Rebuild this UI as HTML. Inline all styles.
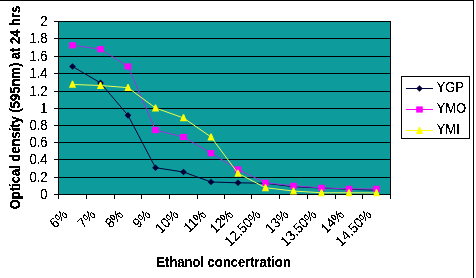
<!DOCTYPE html><html><head><meta charset="utf-8"><style>
html,body{margin:0;padding:0;background:#fff;width:476px;height:278px;overflow:hidden}
svg{display:block}text{font-family:"Liberation Sans",sans-serif}
</style></head><body>
<svg width="476" height="278" viewBox="0 0 476 278">
<defs><filter id="th" x="-20%" y="-20%" width="140%" height="140%" color-interpolation-filters="sRGB"><feComponentTransfer><feFuncA type="discrete" tableValues="0 0 1 1 1"/></feComponentTransfer></filter></defs>
<rect x="0" y="0" width="476" height="278" fill="#fff"/>
<g shape-rendering="crispEdges" stroke="#000" stroke-width="1">
<line x1="0" y1="0.5" x2="474" y2="0.5"/>
<line x1="473.5" y1="0" x2="473.5" y2="278"/>
</g>
<rect x="58" y="21" width="333" height="174" fill="#0E9B9B"/>
<g shape-rendering="crispEdges" stroke="#000" stroke-width="1">
<line x1="54" y1="21.5" x2="391" y2="21.5"/>
<line x1="54" y1="38.5" x2="391" y2="38.5"/>
<line x1="54" y1="56.5" x2="391" y2="56.5"/>
<line x1="54" y1="73.5" x2="391" y2="73.5"/>
<line x1="54" y1="91.5" x2="391" y2="91.5"/>
<line x1="54" y1="108.5" x2="391" y2="108.5"/>
<line x1="54" y1="125.5" x2="391" y2="125.5"/>
<line x1="54" y1="142.5" x2="391" y2="142.5"/>
<line x1="54" y1="159.5" x2="391" y2="159.5"/>
<line x1="54" y1="177.5" x2="391" y2="177.5"/>
<line x1="54" y1="194.5" x2="391" y2="194.5"/>
<line x1="58.5" y1="21" x2="58.5" y2="199"/>
<line x1="390.5" y1="21" x2="390.5" y2="199"/>
<line x1="58.5" y1="194" x2="58.5" y2="199"/>
<line x1="86.5" y1="194" x2="86.5" y2="199"/>
<line x1="114.5" y1="194" x2="114.5" y2="199"/>
<line x1="141.5" y1="194" x2="141.5" y2="199"/>
<line x1="169.5" y1="194" x2="169.5" y2="199"/>
<line x1="197.5" y1="194" x2="197.5" y2="199"/>
<line x1="224.5" y1="194" x2="224.5" y2="199"/>
<line x1="251.5" y1="194" x2="251.5" y2="199"/>
<line x1="279.5" y1="194" x2="279.5" y2="199"/>
<line x1="307.5" y1="194" x2="307.5" y2="199"/>
<line x1="335.5" y1="194" x2="335.5" y2="199"/>
<line x1="362.5" y1="194" x2="362.5" y2="199"/>
<line x1="390.5" y1="194" x2="390.5" y2="199"/>
</g>
<g font-size="13" text-anchor="end" fill="#000" filter="url(#th)">
<text transform="translate(47.5,26) scale(1,1.08)">2</text>
<text transform="translate(47.5,43) scale(1,1.08)">1.8</text>
<text transform="translate(47.5,61) scale(1,1.08)">1.6</text>
<text transform="translate(47.5,78) scale(1,1.08)">1.4</text>
<text transform="translate(47.5,96) scale(1,1.08)">1.2</text>
<text transform="translate(47.5,113) scale(1,1.08)">1</text>
<text transform="translate(47.5,130) scale(1,1.08)">0.8</text>
<text transform="translate(47.5,147) scale(1,1.08)">0.6</text>
<text transform="translate(47.5,164) scale(1,1.08)">0.4</text>
<text transform="translate(47.5,182) scale(1,1.08)">0.2</text>
<text transform="translate(47.5,199) scale(1,1.08)">0</text>
</g>
<polyline points="72.50,66.48 100.50,82.91 128.00,115.35 155.50,167.69 183.50,172.01 211.00,181.96 238.00,182.82 265.50,183.25 293.50,186.72 321.50,188.01 349.00,189.31 376.50,190.18" fill="none" stroke="#00003C" stroke-width="1"/>
<path d="M72.50 63.18L75.80 66.48L72.50 69.78L69.20 66.48Z" fill="#00003C"/>
<path d="M100.50 79.61L103.80 82.91L100.50 86.21L97.20 82.91Z" fill="#00003C"/>
<path d="M128.00 112.05L131.30 115.35L128.00 118.65L124.70 115.35Z" fill="#00003C"/>
<path d="M155.50 164.38L158.80 167.69L155.50 170.99L152.20 167.69Z" fill="#00003C"/>
<path d="M183.50 168.71L186.80 172.01L183.50 175.31L180.20 172.01Z" fill="#00003C"/>
<path d="M211.00 178.66L214.30 181.96L211.00 185.26L207.70 181.96Z" fill="#00003C"/>
<path d="M238.00 179.52L241.30 182.82L238.00 186.12L234.70 182.82Z" fill="#00003C"/>
<path d="M265.50 179.95L268.80 183.25L265.50 186.56L262.20 183.25Z" fill="#00003C"/>
<path d="M293.50 183.41L296.80 186.72L293.50 190.02L290.20 186.72Z" fill="#00003C"/>
<path d="M321.50 184.71L324.80 188.01L321.50 191.31L318.20 188.01Z" fill="#00003C"/>
<path d="M349.00 186.01L352.30 189.31L349.00 192.61L345.70 189.31Z" fill="#00003C"/>
<path d="M376.50 186.88L379.80 190.18L376.50 193.48L373.20 190.18Z" fill="#00003C"/>
<polyline points="72.50,45.29 100.50,49.18 128.00,66.48 155.50,130.06 183.50,136.98 211.00,153.15 238.00,169.41 265.50,182.82 293.50,185.85 321.50,187.84 349.00,188.88 376.50,188.88" fill="none" stroke="#A030E0" stroke-width="1"/>
<rect x="69.20" y="42.19" width="6.6" height="6.2" fill="#FF00FF"/>
<rect x="97.20" y="46.08" width="6.6" height="6.2" fill="#FF00FF"/>
<rect x="124.70" y="63.38" width="6.6" height="6.2" fill="#FF00FF"/>
<rect x="152.20" y="126.96" width="6.6" height="6.2" fill="#FF00FF"/>
<rect x="180.20" y="133.88" width="6.6" height="6.2" fill="#FF00FF"/>
<rect x="207.70" y="150.05" width="6.6" height="6.2" fill="#FF00FF"/>
<rect x="234.70" y="166.31" width="6.6" height="6.2" fill="#FF00FF"/>
<rect x="262.20" y="179.72" width="6.6" height="6.2" fill="#FF00FF"/>
<rect x="290.20" y="182.75" width="6.6" height="6.2" fill="#FF00FF"/>
<rect x="318.20" y="184.74" width="6.6" height="6.2" fill="#FF00FF"/>
<rect x="345.70" y="185.78" width="6.6" height="6.2" fill="#FF00FF"/>
<rect x="373.20" y="185.78" width="6.6" height="6.2" fill="#FF00FF"/>
<polyline points="72.50,84.47 100.50,85.51 128.00,87.67 155.50,108.00 183.50,117.95 211.00,136.98 238.00,173.31 265.50,187.75 293.50,191.04 321.50,192.77 349.00,192.77 376.50,192.94" fill="none" stroke="#E8FF50" stroke-width="1"/>
<path d="M71.90 80.87L73.10 80.87L76.10 87.87L68.90 87.87Z" fill="#FFFF00"/>
<path d="M99.90 81.91L101.10 81.91L104.10 88.91L96.90 88.91Z" fill="#FFFF00"/>
<path d="M127.40 84.07L128.60 84.07L131.60 91.07L124.40 91.07Z" fill="#FFFF00"/>
<path d="M154.90 104.40L156.10 104.40L159.10 111.40L151.90 111.40Z" fill="#FFFF00"/>
<path d="M182.90 114.35L184.10 114.35L187.10 121.35L179.90 121.35Z" fill="#FFFF00"/>
<path d="M210.40 133.38L211.60 133.38L214.60 140.38L207.40 140.38Z" fill="#FFFF00"/>
<path d="M237.40 169.71L238.60 169.71L241.60 176.71L234.40 176.71Z" fill="#FFFF00"/>
<path d="M264.90 184.15L266.10 184.15L269.10 191.15L261.90 191.15Z" fill="#FFFF00"/>
<path d="M292.90 187.44L294.10 187.44L297.10 194.44L289.90 194.44Z" fill="#FFFF00"/>
<path d="M320.90 189.17L322.10 189.17L325.10 196.17L317.90 196.17Z" fill="#FFFF00"/>
<path d="M348.40 189.17L349.60 189.17L352.60 196.17L345.40 196.17Z" fill="#FFFF00"/>
<path d="M375.90 189.34L377.10 189.34L380.10 196.34L372.90 196.34Z" fill="#FFFF00"/>
<g font-size="13" text-anchor="end" fill="#000" filter="url(#th)">
<text transform="translate(68.50,215.5) rotate(-45) scale(1,1.08)">6%</text>
<text transform="translate(96.50,215.5) rotate(-45) scale(1,1.08)">7%</text>
<text transform="translate(124.00,215.5) rotate(-45) scale(1,1.08)">8%</text>
<text transform="translate(151.50,215.5) rotate(-45) scale(1,1.08)">9%</text>
<text transform="translate(179.50,215.5) rotate(-45) scale(1,1.08)">10%</text>
<text transform="translate(207.00,215.5) rotate(-45) scale(1,1.08)">11%</text>
<text transform="translate(234.00,215.5) rotate(-45) scale(1,1.08)">12%</text>
<text transform="translate(261.50,215.5) rotate(-45) scale(1,1.08)">12.50%</text>
<text transform="translate(289.50,215.5) rotate(-45) scale(1,1.08)">13%</text>
<text transform="translate(317.50,215.5) rotate(-45) scale(1,1.08)">13.50%</text>
<text transform="translate(345.00,215.5) rotate(-45) scale(1,1.08)">14%</text>
<text transform="translate(372.50,215.5) rotate(-45) scale(1,1.08)">14.50%</text>
</g>
<g filter="url(#th)">
<text transform="translate(223.5,267) scale(1,1.08)" font-size="13" font-weight="bold" text-anchor="middle">Ethanol concertration</text>
<text transform="translate(20,107.5) rotate(-90) scale(1,1.08)" font-size="13" font-weight="bold" text-anchor="middle">Optical density (595nm) at 24 hrs</text>
</g>
<rect x="401.5" y="76.5" width="68" height="62" fill="#fff" stroke="#000" stroke-width="1" shape-rendering="crispEdges"/>
<line x1="406" y1="88.5" x2="433" y2="88.5" stroke="#00003C" stroke-width="1" shape-rendering="crispEdges"/>
<path d="M419.50 85.20L422.80 88.50L419.50 91.80L416.20 88.50Z" fill="#00003C"/>
<text transform="translate(436.5,91.5) scale(1,1.08)" font-size="13" filter="url(#th)">YGP</text>
<line x1="406" y1="109.5" x2="433" y2="109.5" stroke="#FF00FF" stroke-width="1" shape-rendering="crispEdges"/>
<rect x="416.20" y="106.40" width="6.6" height="6.2" fill="#FF00FF"/>
<text transform="translate(436.5,112.5) scale(1,1.08)" font-size="13" filter="url(#th)">YMO</text>
<line x1="406" y1="130.5" x2="433" y2="130.5" stroke="#FFFF00" stroke-width="1" shape-rendering="crispEdges"/>
<path d="M418.90 126.90L420.10 126.90L423.10 133.90L415.90 133.90Z" fill="#FFFF00"/>
<text transform="translate(436.5,133.5) scale(1,1.08)" font-size="13" filter="url(#th)">YMI</text>
</svg></body></html>
